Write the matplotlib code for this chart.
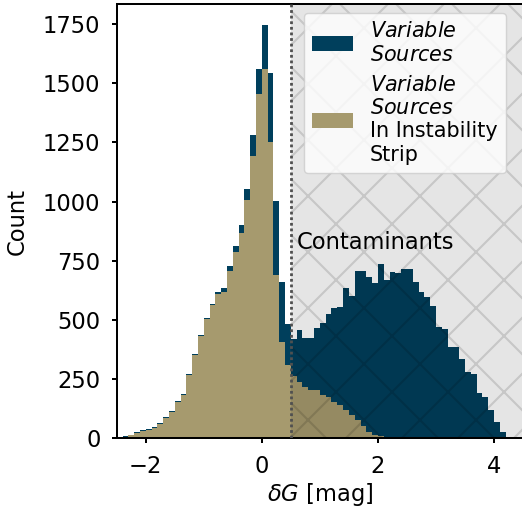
import numpy as np
import matplotlib
matplotlib.use("Agg")
import matplotlib.pyplot as plt

# histogram counts, 0.1 mag bins starting at -2.5
bin_start = -2.5
bin_width = 0.1

variable_counts = [
    4, 9, 14, 26, 34, 40, 48, 65, 90, 116,          # -2.5 .. -1.6
    158, 186, 270, 356, 436, 510, 569, 618, 636, 726,  # -1.5 .. -0.6
    812, 900, 1053, 1282, 1560, 1747, 1543, 1003, 661, 483,  # -0.5 .. 0.4
    420, 458, 422, 422, 467, 487, 527, 550, 553, 634,  # 0.5 .. 1.4
    603, 708, 708, 683, 655, 736, 669, 704, 699, 714,  # 1.5 .. 2.4
    716, 660, 620, 596, 561, 472, 460, 387, 387, 333,  # 2.5 .. 3.4
    280, 272, 190, 176, 120, 70, 28,                   # 3.5 .. 4.1
]

strip_counts = [
    3, 7, 12, 23, 31, 37, 45, 61, 86, 112,
    152, 182, 266, 350, 431, 506, 562, 609, 620, 709,
    786, 866, 1007, 1194, 1456, 1560, 1253, 690, 406, 310,
    262, 240, 218, 206, 202, 183, 174, 155, 140, 120,
    98, 77, 50, 28, 14, 8, 3,
]

labels = [r"$\it{Variable}$" + "\n" + r"$\it{Sources}$",
          r"$\it{Variable}$" + "\n" + r"$\it{Sources}$" + "\nIn Instability\nStrip"]
cut = 0.5

dark = "#003f5c"
khaki = "#a69a6e"

# high dpi so that the hatch cell comes out large
DPI = 336
plt.rcParams["hatch.linewidth"] = 0.45
plt.rcParams["font.size"] = 4.86

fig = plt.figure(figsize=(522 / DPI, 513 / DPI), dpi=DPI)
ax = fig.add_axes([0.2236, 0.1456, 0.7784, 0.8466])

edges_v = bin_start + bin_width * np.arange(len(variable_counts) + 1)
edges_s = bin_start + bin_width * np.arange(len(strip_counts) + 1)

ax.stairs(variable_counts, edges_v, fill=True, color=dark, label=labels[0], zorder=1)
ax.stairs(strip_counts, edges_s, fill=True, color=khaki, label=labels[1], zorder=2)

ax.axvspan(cut, 4.6, facecolor=(0, 0, 0, 0.1), edgecolor=(0, 0, 0, 0.13),
           hatch="xx", linewidth=0, zorder=3)
ax.axvline(cut, color="#505050", lw=0.6, linestyle=(0, (1, 1.0)), zorder=4)
ax.text(0.6, 800, "Contaminants", ha="left", va="baseline", fontsize=4.86, zorder=4)

ax.set_xlim(-2.5, 4.5)
ax.set_ylim(0, 1835)
ax.set_xticks([-2, 0, 2, 4])
ax.set_yticks(np.arange(0, 1751, 250))
ax.tick_params(length=1.1, width=0.43, pad=2.4, labelsize=4.86)
for s in ax.spines.values():
    s.set_linewidth(0.43)

ax.set_xlabel(r"$\delta G$ [mag]", labelpad=0.8)
ax.set_ylabel("Count", labelpad=3.0)

leg = ax.legend(loc="upper right", bbox_to_anchor=(0.958, 0.979), borderaxespad=0,
                fontsize=4.45)
leg.get_frame().set_linewidth(0.3)
leg.set_zorder(6)

fig.savefig("out.png", dpi=DPI)
